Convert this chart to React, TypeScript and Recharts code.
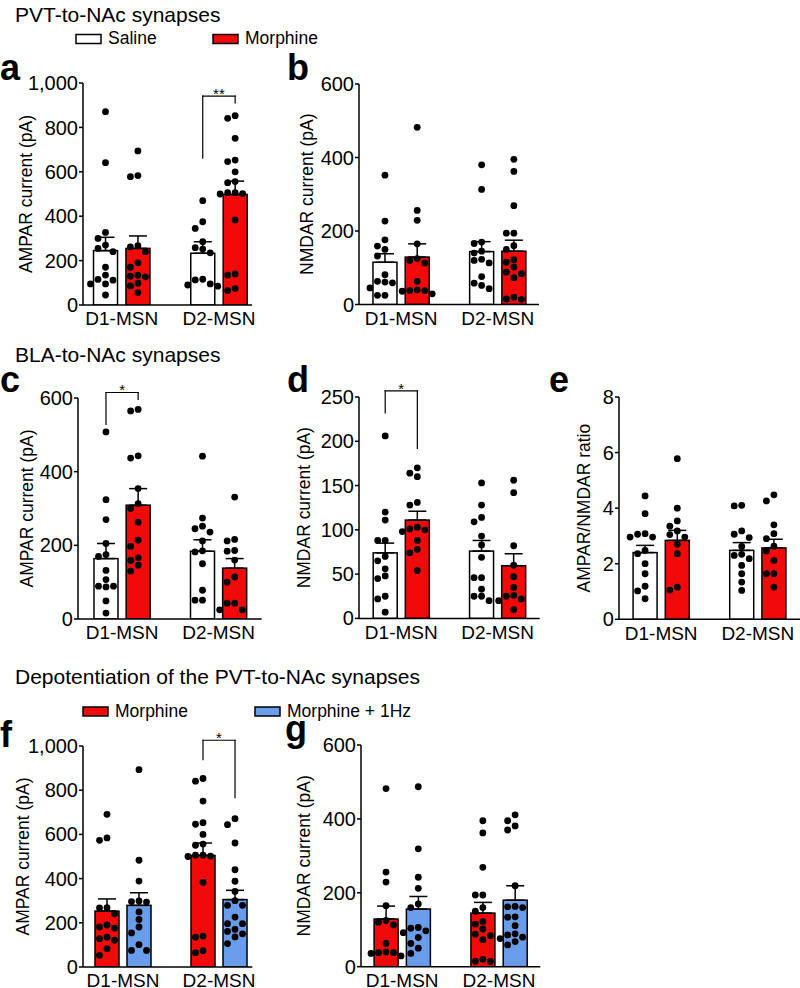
import React from 'react';
import { ComposedChart, Bar, Scatter, XAxis, YAxis, ErrorBar, ReferenceLine, Label } from 'recharts';

const FONT = '"Liberation Sans", Arial, Helvetica, sans-serif';
const RED = '#F20A0A';
const BLUE = '#6A9CEC';
const WHITE = '#FFFFFF';

const categories = ['D1-MSN', 'D2-MSN'];
const seriesTop = ['Saline', 'Morphine'];
const seriesBottom = ['Morphine', 'Morphine + 1Hz'];
const titles = ['PVT-to-NAc synapses', 'BLA-to-NAc synapses', 'Depotentiation of the PVT-to-NAc synapses'];

// ---- Panel a: PVT AMPAR current (pA)
const aD1Saline = [871, 641, 327, 300, 270, 255, 240, 170, 135, 115, 112, 95, 95, 45];
const aD1Morphine = [694, 583, 578, 267, 262, 240, 190, 170, 134, 130, 127, 98, 86, 56];
const aD2Saline = [470, 375, 345, 285, 258, 252, 235, 116, 113, 95, 90, 85];
const aD2Morphine = [853, 841, 751, 653, 646, 600, 556, 551, 506, 506, 502, 500, 383, 140, 135, 74, 65];
const aMeans = [245, 255, 233, 498];
const aSems = [60, 56, 52, 60];

// ---- Panel b: PVT NMDAR current (pA)
const bD1Saline = [352, 227, 176, 159, 150, 132, 81, 63, 61, 59, 45, 25, 25];
const bD1Morphine = [482, 256, 229, 165, 125, 120, 113, 63, 40, 38, 38, 36, 29];
const bD2Saline = [380, 313, 170, 166, 145, 140, 123, 120, 113, 76, 58, 52, 43];
const bD2Morphine = [395, 362, 269, 194, 194, 160, 150, 122, 115, 102, 88, 84, 73, 20, 15, 14];
const bMeans = [115, 129, 144, 145];
const bSems = [23, 36, 27, 30];

// ---- Panel c: BLA AMPAR current (pA)
const cD1Saline = [508, 324, 270, 205, 175, 170, 132, 107, 89, 89, 87, 49, 16];
const cD1Morphine = [569, 565, 443, 437, 354, 313, 300, 263, 214, 197, 166, 159, 146, 130];
const cD2Saline = [442, 274, 252, 245, 236, 212, 185, 182, 150, 78, 51, 51];
const cD2Morphine = [331, 216, 212, 186, 184, 160, 114, 100, 43, 43, 25, 25];
const cMeans = [164, 309, 184, 138];
const cSems = [41, 45, 31, 26];

// ---- Panel d: BLA NMDAR current (pA)
const dD1Saline = [206, 120, 111, 88, 88, 70, 65, 56, 48, 45, 25, 22, 7];
const dD1Morphine = [170, 164, 160, 131, 128, 103, 101, 100, 98, 88, 78, 74, 54];
const dD2Saline = [153, 128, 114, 109, 93, 83, 69, 46, 46, 33, 25, 25, 20];
const dD2Morphine = [156, 142, 82, 60, 47, 35, 26, 25, 22, 20, 10];
const dMeans = [74, 111, 76, 59.5];
const dSems = [11, 10, 12, 13.5];

// ---- Panel e: BLA AMPAR/NMDAR ratio
const eD1Saline = [4.44, 3.8, 3.08, 3.06, 2.96, 2.96, 2.48, 2.36, 2.0, 1.64, 1.19, 1.02, 0.74];
const eD1Morphine = [5.78, 4.0, 3.54, 3.35, 3.18, 3.05, 2.96, 2.7, 2.36, 1.16, 1.05];
const eD2Saline = [4.1, 4.08, 3.18, 3.06, 2.94, 2.62, 2.34, 2.3, 2.18, 1.94, 1.64, 1.34, 1.04];
const eD2Morphine = [4.48, 4.26, 3.4, 3.08, 2.9, 2.63, 2.46, 2.12, 1.64, 1.64, 1.16];
const eMeans = [2.4, 2.84, 2.48, 2.57];
const eSems = [0.26, 0.36, 0.28, 0.31];

// ---- Panel f: depotentiation AMPAR current (pA)
const fD1Morphine = [691, 584, 573, 268, 267, 241, 190, 181, 176, 135, 128, 121, 83, 53];
const fD1Hz = [893, 483, 389, 299, 296, 294, 249, 215, 181, 154, 101, 75, 75];
const fD2Morphine = [853, 841, 751, 653, 646, 600, 556, 551, 506, 506, 502, 500, 383, 140, 135, 74, 65];
const fD2Hz = [671, 644, 561, 440, 388, 342, 300, 279, 279, 226, 196, 196, 170, 161, 150, 136, 106];
const fMeans = [253, 279, 505, 305];
const fSems = [55, 57, 56, 42];

// ---- Panel g: depotentiation NMDAR current (pA)
const gD1Morphine = [482, 256, 229, 165, 125, 120, 113, 63, 40, 38, 38, 36, 29];
const gD1Hz = [487, 319, 242, 212, 170, 160, 106, 104, 97, 92, 79, 63, 50, 36];
const gD2Morphine = [395, 362, 269, 194, 194, 160, 150, 122, 115, 102, 88, 84, 73, 20, 15, 14];
const gD2Hz = [411, 395, 381, 370, 219, 163, 162, 160, 135, 134, 111, 89, 86, 80, 76, 68, 59];
const gMeans = [129, 156, 145, 180];
const gSems = [35, 34, 29, 39];

type Bracket = { from: number; to: number; top: number; left: number; right: number; text: string };
type PanelCfg = {
  groups: number[][];
  means: number[];
  sems: number[];
  colors: string[];
  yMax: number;
  yTicks: number[];
  yLabel: string;
  axisX: number;
  topPx: number;
  bottomPx: number;
  rightPx: number;
  xDomain: [number, number];
  labelOffset: number;
  bracket?: Bracket;
};

const YW = 75;
const MT = 30;
const XH = 36;
const MR = 6;
const BAR_W = 24;
const SLOTS = [1, 2, 4, 5];
const CAT_POS = [1.5, 4.5];

function swarm(values: number[], center: number, pxX: number, pxY: number) {
  const D = 7;
  const STEP = 7.5;
  const cands = [0, -STEP, STEP, -2 * STEP, 2 * STEP];
  const placed: { px: number; py: number }[] = [];
  const order = values.map((_, i) => i).sort((a, b) => values[b] - values[a]);
  const out: { x: number; y: number }[] = [];
  order.forEach((i) => {
    const py = values[i] * pxY;
    let best = 0;
    let bestCost = Infinity;
    for (const c of cands) {
      let cost = 0;
      for (const p of placed) {
        const d = Math.hypot(p.px - c, p.py - py);
        if (d < D) cost += D - d;
      }
      if (cost < bestCost - 1e-9) {
        bestCost = cost;
        best = c;
      }
      if (cost === 0) break;
    }
    placed.push({ px: best, py });
    out.push({ x: center + best / pxX, y: values[i] });
  });
  return out;
}

const dotShape = (p: any) => <circle cx={p.cx} cy={p.cy} r={3.4} fill="#000" />;

function Panel({ cfg }: { cfg: PanelCfg }) {
  const plotW = cfg.rightPx - cfg.axisX;
  const plotH = cfg.bottomPx - cfg.topPx;
  const width = YW + plotW + MR;
  const height = MT + plotH + XH;
  const pxX = plotW / (cfg.xDomain[1] - cfg.xDomain[0]);
  const pxY = plotH / cfg.yMax;
  const bars = SLOTS.map((x, i) => ({ x, mean: cfg.means[i], err: [0, cfg.sems[i]] }));
  const dots = SLOTS.flatMap((x, i) => swarm(cfg.groups[i], x, pxX, pxY));
  const lx = YW - cfg.labelOffset;
  const ly = MT + plotH / 2;
  const b = cfg.bracket;
  const lineProps = { stroke: '#000', strokeWidth: 1.2, ifOverflow: 'visible' as const, strokeLinecap: 'square' as any };
  const barShape = (p: any) => {
    const cx = p.x + p.width / 2;
    return (
      <rect
        x={cx - BAR_W / 2}
        y={p.y}
        width={BAR_W}
        height={p.height}
        fill={cfg.colors[p.index]}
        stroke="#000"
        strokeWidth={1.5}
      />
    );
  };
  return (
    <div style={{ position: 'absolute', left: cfg.axisX - YW, top: cfg.topPx - MT }}>
      <ComposedChart width={width} height={height} data={bars} margin={{ top: MT, right: MR, bottom: 0, left: 0 }}>
        <XAxis
          dataKey="x"
          type="number"
          domain={cfg.xDomain}
          allowDataOverflow
          ticks={CAT_POS}
          interval={0}
          tickFormatter={(v: number) => categories[CAT_POS.indexOf(v)]}
          height={XH}
          tickLine={false}
          tickSize={5}
          tickMargin={2}
          axisLine={{ stroke: '#000', strokeWidth: 1.5 }}
          tick={{ fill: '#000', fontSize: 19, fontFamily: FONT }}
        />
        <YAxis
          type="number"
          domain={[0, cfg.yMax]}
          allowDataOverflow
          ticks={cfg.yTicks}
          interval={0}
          width={YW}
          tickSize={4}
          tickMargin={1}
          tickLine={{ stroke: '#000', strokeWidth: 1.5 }}
          axisLine={{ stroke: '#000', strokeWidth: 1.5 }}
          tick={{ fill: '#000', fontSize: 20, fontFamily: FONT }}
          tickFormatter={(v: number) => v.toLocaleString('en-US')}
        >
          <Label
            content={() => (
              <text
                x={lx}
                y={ly}
                transform={`rotate(-90 ${lx} ${ly})`}
                textAnchor="middle"
                dominantBaseline="central"
                fontSize={17.5}
                fontFamily={FONT}
                fill="#000"
              >
                {cfg.yLabel}
              </text>
            )}
          />
        </YAxis>
        <Bar dataKey="mean" shape={barShape} isAnimationActive={false}>
          <ErrorBar dataKey="err" width={9} stroke="#000" strokeWidth={1.5} direction="y" />
        </Bar>
        <Scatter data={dots} dataKey="y" isAnimationActive={false} shape={dotShape} />
        {b && (
          <ReferenceLine
            segment={[{ x: b.from, y: b.top }, { x: b.to, y: b.top }]}
            {...lineProps}
            label={{ value: b.text, position: 'top', offset: -3, fontSize: 15, fill: '#000', fontFamily: FONT }}
          />
        )}
        {b && <ReferenceLine segment={[{ x: b.from, y: b.left }, { x: b.from, y: b.top }]} {...lineProps} />}
        {b && <ReferenceLine segment={[{ x: b.to, y: b.right }, { x: b.to, y: b.top }]} {...lineProps} />}
      </ComposedChart>
    </div>
  );
}

const W2 = [WHITE, RED, WHITE, RED];
const RB = [RED, BLUE, RED, BLUE];
const t1000 = [0, 200, 400, 600, 800, 1000];
const t600 = [0, 200, 400, 600];

const panels: PanelCfg[] = [
  { groups: [aD1Saline, aD1Morphine, aD2Saline, aD2Morphine], means: aMeans, sems: aSems, colors: W2, yMax: 1000, yTicks: t1000, yLabel: 'AMPAR current (pA)', axisX: 83, topPx: 83, bottomPx: 305, rightPx: 252, xDomain: [0.306, 5.52], labelOffset: 57, bracket: { from: 4, to: 5, top: 941, left: 662, right: 910, text: '**' } },
  { groups: [bD1Saline, bD1Morphine, bD2Saline, bD2Morphine], means: bMeans, sems: bSems, colors: W2, yMax: 600, yTicks: t600, yLabel: 'NMDAR current (pA)', axisX: 359, topPx: 84, bottomPx: 304.5, rightPx: 539, xDomain: [0.194, 5.78], labelOffset: 52 },
  { groups: [cD1Saline, cD1Morphine, cD2Saline, cD2Morphine], means: cMeans, sems: cSems, colors: W2, yMax: 600, yTicks: t600, yLabel: 'AMPAR current (pA)', axisX: 78, topPx: 397.7, bottomPx: 618.7, rightPx: 261.7, xDomain: [0.13, 5.84], labelOffset: 50.5, bracket: { from: 1, to: 2, top: 615, left: 528, right: 596, text: '*' } },
  { groups: [dD1Saline, dD1Morphine, dD2Saline, dD2Morphine], means: dMeans, sems: dSems, colors: W2, yMax: 250, yTicks: [0, 50, 100, 150, 200, 250], yLabel: 'NMDAR current (pA)', axisX: 359.3, topPx: 397.3, bottomPx: 618.7, rightPx: 540, xDomain: [0.184, 5.81], labelOffset: 55, bracket: { from: 1, to: 2, top: 257, left: 232, right: 192, text: '*' } },
  { groups: [eD1Saline, eD1Morphine, eD2Saline, eD2Morphine], means: eMeans, sems: eSems, colors: W2, yMax: 8, yTicks: [0, 2, 4, 6, 8], yLabel: 'AMPAR/NMDAR ratio', axisX: 619, topPx: 396.7, bottomPx: 619, rightPx: 800, xDomain: [0.19, 5.81], labelOffset: 34.5 },
  { groups: [fD1Morphine, fD1Hz, fD2Morphine, fD2Hz], means: fMeans, sems: fSems, colors: RB, yMax: 1000, yTicks: t1000, yLabel: 'AMPAR current (pA)', axisX: 82.7, topPx: 745.7, bottomPx: 966.7, rightPx: 252, xDomain: [0.25, 5.54], labelOffset: 60, bracket: { from: 4, to: 5, top: 1026, left: 938, right: 766, text: '*' } },
  { groups: [gD1Morphine, gD1Hz, gD2Morphine, gD2Hz], means: gMeans, sems: gSems, colors: RB, yMax: 600, yTicks: t600, yLabel: 'NMDAR current (pA)', axisX: 360.7, topPx: 745, bottomPx: 966.7, rightPx: 540, xDomain: [0.225, 5.78], labelOffset: 57 },
];

const letters = [
  { t: 'a', x: 0, y: 80 },
  { t: 'b', x: 287, y: 80 },
  { t: 'c', x: 0, y: 392 },
  { t: 'd', x: 287, y: 392 },
  { t: 'e', x: 549, y: 392 },
  { t: 'f', x: 0, y: 747 },
  { t: 'g', x: 285, y: 741 },
];

function Overlay() {
  const txt = { fontFamily: FONT, fill: '#000' };
  return (
    <svg width={800} height={988} style={{ position: 'absolute', left: 0, top: 0 }}>
      <text x={15} y={22} fontSize={21} {...txt}>{titles[0]}</text>
      <text x={15} y={362} fontSize={21} {...txt}>{titles[1]}</text>
      <text x={15} y={684} fontSize={21} {...txt}>{titles[2]}</text>

      <rect x={76} y={34.5} width={25} height={9} fill={WHITE} stroke="#000" strokeWidth={1.5} />
      <text x={108} y={43.5} fontSize={17.5} {...txt}>{seriesTop[0]}</text>
      <rect x={213} y={34.5} width={25} height={9} fill={RED} stroke="#000" strokeWidth={1.5} />
      <text x={245} y={43.5} fontSize={17.5} {...txt}>{seriesTop[1]}</text>

      <rect x={83} y={707} width={25} height={9} fill={RED} stroke="#000" strokeWidth={1.5} />
      <text x={115} y={716.5} fontSize={17.5} {...txt}>{seriesBottom[0]}</text>
      <rect x={255} y={707} width={25} height={9} fill={BLUE} stroke="#000" strokeWidth={1.5} />
      <text x={287} y={716.5} fontSize={17.5} {...txt}>{seriesBottom[1]}</text>

      {letters.map((l) => (
        <text key={l.t} x={l.x} y={l.y} fontSize={36} fontWeight="bold" {...txt}>{l.t}</text>
      ))}
    </svg>
  );
}

export default function App() {
  return (
    <div style={{ position: 'absolute', left: 0, top: 0, width: 800, height: 988, overflow: 'hidden', background: '#fff', fontFamily: FONT }}>
      <Overlay />
      {panels.map((p, i) => (
        <Panel key={i} cfg={p} />
      ))}
    </div>
  );
}
